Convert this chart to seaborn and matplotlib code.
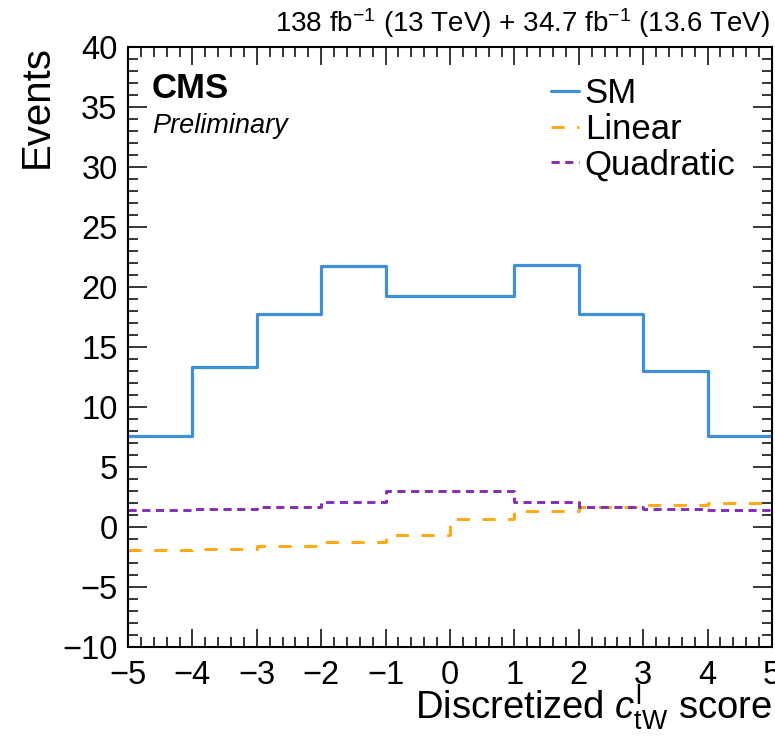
import numpy as np
import pandas as pd
import matplotlib
matplotlib.use("Agg")
import matplotlib.pyplot as plt
from matplotlib.ticker import MultipleLocator
import seaborn as sns

# ---------------- data ----------------
bin_edges = [-5, -4, -3, -2, -1, 0, 1, 2, 3, 4, 5]
bin_centers = [-4.5, -3.5, -2.5, -1.5, -0.5, 0.5, 1.5, 2.5, 3.5, 4.5]
sm_events = [7.56, 13.33, 17.78, 21.79, 19.22, 19.28, 21.87, 17.75, 12.97, 7.62]
linear_events = [-1.94, -1.80, -1.58, -1.25, -0.67, 0.64, 1.33, 1.67, 1.81, 2.00]
quadratic_events = [1.45, 1.53, 1.67, 2.06, 2.98, 2.98, 2.06, 1.67, 1.47, 1.45]
series_labels = ["SM", "Linear", "Quadratic"]
x_ticks = [-5, -4, -3, -2, -1, 0, 1, 2, 3, 4, 5]
y_ticks = [-10, -5, 0, 5, 10, 15, 20, 25, 30, 35, 40]

# ---------------- style ----------------
sns.set_style("ticks")
plt.rcParams["font.family"] = ["Liberation Sans", "DejaVu Sans"]
plt.rcParams["mathtext.fontset"] = "custom"
plt.rcParams["mathtext.rm"] = "Liberation Sans"
plt.rcParams["mathtext.it"] = "Liberation Sans:italic"
plt.rcParams["mathtext.bf"] = "Liberation Sans:bold"
for key in ["text.color", "axes.labelcolor", "xtick.color", "ytick.color",
            "xtick.labelcolor", "ytick.labelcolor", "axes.edgecolor"]:
    plt.rcParams[key] = "black"

colors = ["#3f90da", "#ffa90e", "#832db6"]
styles = ["-", (0, (4.5, 4.3)), (0, (2.8, 1.9))]
widths = [2.3, 2.1, 2.1]

W, H = 775, 736
fig = plt.figure(figsize=(W / 100, H / 100), dpi=100)
ax = fig.add_axes([128 / W, 1 - 647 / H, 644 / W, 600 / H])

frames = []
for lab, vals in zip(series_labels, [sm_events, linear_events, quadratic_events]):
    frames.append(pd.DataFrame({"x": bin_centers, "w": vals, "series": lab}))
df = pd.concat(frames, ignore_index=True)

for lab, c, ls, lw in zip(series_labels, colors, styles, widths):
    sub = df[df["series"] == lab]
    sns.histplot(data=sub, x="x", weights="w", bins=bin_edges, element="step",
                 fill=False, color=c, linestyle=ls, linewidth=lw, label=lab, ax=ax)

ax.set_xlim(-5, 5)
ax.set_ylim(-10, 40)
ax.set_xticks(x_ticks)
ax.set_yticks(y_ticks)
ax.xaxis.set_minor_locator(MultipleLocator(0.2))
ax.yaxis.set_minor_locator(MultipleLocator(1))
ax.tick_params(which="both", direction="in", top=True, right=True, width=1.1, color="black")
ax.tick_params(axis="x", which="major", length=13.0, pad=9.0, labelsize=23.5)
ax.tick_params(axis="x", which="minor", length=7.0)
ax.tick_params(axis="y", which="major", length=13.5, pad=7.5, labelsize=23.5)
ax.tick_params(axis="y", which="minor", length=7.0)
for s in ax.spines.values():
    s.set_linewidth(1.5)
    s.set_color("black")

ax.set_ylabel("Events", fontsize=29, loc="top")
ax.yaxis.label.set_va("center")
ax.yaxis.set_label_coords((37 - 128) / 644, 1.004)

fig.text(770 / W, 1 - 32 / H, r"138 fb$^{\mathrm{-1}}$ (13 TeV) + 34.7 fb$^{\mathrm{-1}}$ (13.6 TeV)",
         ha="right", va="baseline", fontsize=20)
fig.text(152 / W, 1 - 98 / H, "CMS", fontsize=25, fontweight="bold", ha="left", va="baseline")
fig.text(152 / W, 1 - 133 / H, "Preliminary", fontsize=19.5, fontstyle="italic", ha="left", va="baseline")

leg = ax.legend(loc="upper left", bbox_to_anchor=(551 / W, 1 - 77 / H),
                bbox_transform=fig.transFigure, frameon=False, fontsize=25,
                handlelength=0.8, handletextpad=0.17, labelspacing=0.08,
                borderpad=0, borderaxespad=0)

ax.set_xlabel(r"Discretized $c^{\mathrm{l}}_{\mathrm{tW}}$ score", fontsize=27.5, loc="right")
ax.xaxis.set_label_coords(1.0, (647 - 719) / 600)
ax.xaxis.label.set_va("baseline")

fig.savefig("out.png", dpi=100)
